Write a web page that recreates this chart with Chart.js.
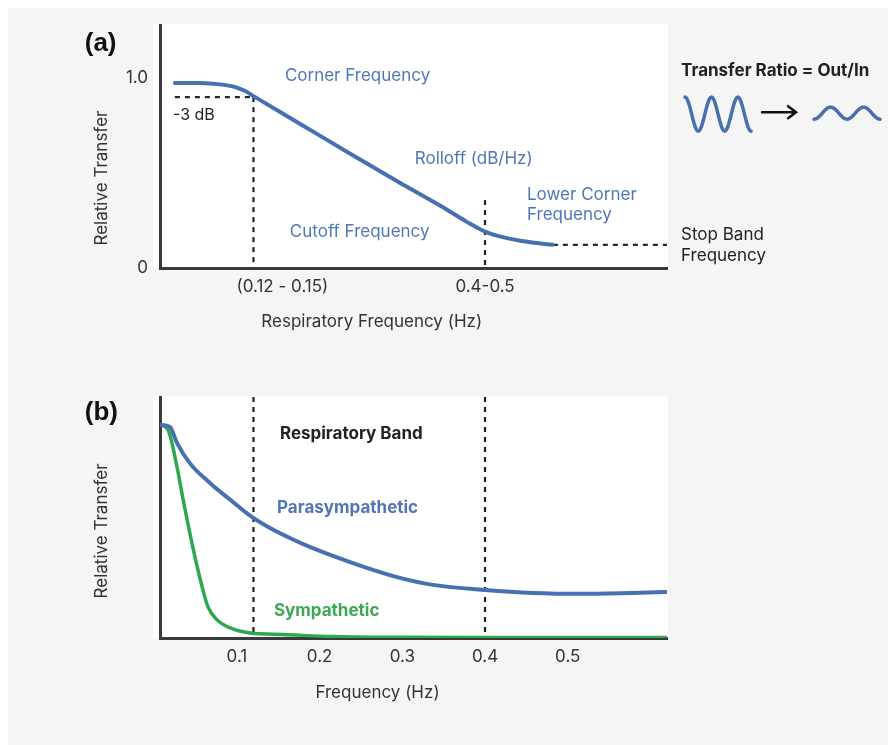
<!DOCTYPE html>
<html>
<head>
<meta charset="utf-8">
<script src="https://cdn.jsdelivr.net/npm/chart.js@4.4.1/dist/chart.umd.min.js"></script>
<style>
  html, body { margin: 0; padding: 0; background: #fff; }
  body { width: 888px; height: 745px; position: relative; overflow: hidden; }
  #sheet { position: absolute; left: 8px; top: 8px; width: 880px; height: 737px; background: #f5f5f5; }
  .panel { position: absolute; left: 0; width: 888px; }
  #panelA { top: 0; height: 370px; }
  #panelB { top: 370px; height: 375px; }
</style>
</head>
<body>
<div id="sheet"></div>
<div class="panel" id="panelA"><canvas id="chartA"></canvas></div>
<div class="panel" id="panelB"><canvas id="chartB"></canvas></div>
<script>
// (a) low-pass transfer curve
const freqA = [0.025, 0.055, 0.082, 0.098, 0.11, 0.119, 0.178, 0.237, 0.297, 0.346, 0.378, 0.4, 0.424, 0.451, 0.482];
const transferA = [0.974, 0.974, 0.966, 0.953, 0.932, 0.908, 0.755, 0.602, 0.449, 0.328, 0.243, 0.192, 0.16, 0.138, 0.122];
const xTicksA = [0.155, 0.4];
const xTickLabelsA = ['(0.12 - 0.15)', '0.4-0.5'];
const yTicksA = [0, 1];
const yTickLabelsA = ['0', '1.0'];
const cornerFreq = 0.12;
const cornerLevel = 0.9;
const lowerCornerFreq = 0.4;
const lowerCornerTop = 0.358;
const stopBandLevel = 0.122;

// (b) parasympathetic / sympathetic transfer
const freqPara = [0.007, 0.019, 0.0275, 0.043, 0.067, 0.092, 0.118, 0.14, 0.164, 0.188, 0.216, 0.257, 0.297, 0.337, 0.4, 0.458, 0.518, 0.579, 0.62];
const para = [1.0, 0.99, 0.915, 0.82, 0.728, 0.648, 0.568, 0.516, 0.469, 0.427, 0.385, 0.329, 0.282, 0.249, 0.225, 0.211, 0.207, 0.211, 0.216];
const freqSymp = [0.007, 0.0166, 0.0275, 0.035, 0.043, 0.052, 0.058, 0.065, 0.076, 0.092, 0.116, 0.156, 0.216, 0.297, 0.45, 0.62];
const symp = [1.0, 0.977, 0.803, 0.648, 0.493, 0.333, 0.239, 0.146, 0.085, 0.047, 0.023, 0.016, 0.007, 0.003, 0.002, 0.002];
const xTicksB = [0.1, 0.2, 0.3, 0.4, 0.5];
const xTickLabelsB = ['0.1', '0.2', '0.3', '0.4', '0.5'];
const bandEdges = [0.12, 0.4];

const X_MIN = 0.007, X_MAX = 0.62;
const BLUE = '#4670b0';
const LABEL_BLUE = '#5077b4';
const GREEN = '#2ea84c';
const INK = '#222';
const FONT = 'Inter, "Open Sans", sans-serif';

const pts = (xs, ys) => xs.map((x, i) => ({ x, y: ys[i] }));

Chart.defaults.font.family = FONT;
Chart.defaults.font.size = 17;
Chart.defaults.color = '#333';

// white plot background, slightly wider than the axes
const plotBg = {
  id: 'plotBg',
  beforeDraw(chart) {
    const { ctx, chartArea: a } = chart;
    ctx.save();
    ctx.fillStyle = '#fff';
    ctx.fillRect(a.left - 7, a.top - 1, a.right - a.left + 8, a.bottom - a.top + 1);
    ctx.restore();
  }
};

// text placed in data coordinates
const makeLabels = (items, extra) => ({
  id: 'labels',
  afterDatasetsDraw(chart) {
    const { ctx, scales: { x, y } } = chart;
    items.forEach(it => {
      ctx.save();
      ctx.font = it.font;
      ctx.fillStyle = it.color;
      ctx.textAlign = it.align || 'left';
      ctx.textBaseline = 'middle';
      const px = x.getPixelForValue(it.x);
      const py = y.getPixelForValue(it.y);
      if (it.rotate) {
        ctx.translate(px, py);
        ctx.rotate(-Math.PI / 2);
        ctx.fillText(it.text, 0, 0);
      } else {
        ctx.fillText(it.text, px, py);
      }
      ctx.restore();
    });
    if (extra) extra(chart);
  }
});

// the little "in -> out" wave icon next to the ratio caption
function drawWaveIcon(chart) {
  const { ctx, scales: { x, y } } = chart;
  const ox = x.getPixelForValue(0.637);
  const oy = y.getPixelForValue(1.037);
  ctx.save();
  ctx.strokeStyle = BLUE;
  ctx.lineWidth = 3.5;
  ctx.lineCap = 'round';
  ctx.beginPath();
  for (let i = 0; i <= 80; i++) {
    const t = i / 80;
    const px = ox + 4 + t * 66;
    const py = oy + 43 - 17 * Math.cos(2 * Math.PI * 2.5 * t);
    i ? ctx.lineTo(px, py) : ctx.moveTo(px, py);
  }
  ctx.stroke();
  ctx.beginPath();
  for (let i = 0; i <= 80; i++) {
    const t = i / 80;
    const px = ox + 133 + t * 66;
    const py = oy + 42 + 6 * Math.cos(2 * Math.PI * 2 * t);
    i ? ctx.lineTo(px, py) : ctx.moveTo(px, py);
  }
  ctx.stroke();
  // arrow
  ctx.strokeStyle = '#111';
  ctx.lineWidth = 2.5;
  ctx.beginPath();
  ctx.moveTo(ox + 81, oy + 41);
  ctx.lineTo(ox + 114, oy + 41);
  ctx.moveTo(ox + 107, oy + 35);
  ctx.lineTo(ox + 115, oy + 41);
  ctx.lineTo(ox + 107, oy + 47);
  ctx.stroke();
  ctx.restore();
}

const dashed = (data) => ({
  data,
  borderColor: INK,
  borderWidth: 2.2,
  borderDash: [5, 5],
  pointRadius: 0,
  tension: 0
});

const axisStyle = { grid: { display: false, drawTicks: false }, border: { display: true, color: '#3a3a3a', width: 3 } };

const xScale = (ticks, labels, xHeight) => ({
  type: 'linear',
  min: X_MIN,
  max: X_MAX,
  ...axisStyle,
  afterBuildTicks: s => { s.ticks = ticks.map(v => ({ value: v })); },
  afterFit: s => { s.height = xHeight; },
  ticks: { padding: 9, maxRotation: 0, autoSkip: false, color: '#333', font: { size: 17 }, callback: (v, i) => labels[i] }
});

const baseOptions = {
  responsive: true,
  maintainAspectRatio: false,
  animation: false,
  devicePixelRatio: 1,
  plugins: { legend: { display: false }, tooltip: { enabled: false } }
};

// ---------- panel (a)
const labelsA = [
  { text: '(a)', x: -0.084, y: 1.179, font: 'bold 26px "Liberation Sans", Arial, sans-serif', color: '#111' },
  { text: 'Corner Frequency', x: 0.158, y: 1.01, font: `17px ${FONT}`, color: LABEL_BLUE },
  { text: '-3 dB', x: 0.0227, y: 0.805, font: `16px ${FONT}`, color: INK },
  { text: 'Rolloff (dB/Hz)', x: 0.315, y: 0.574, font: `17px ${FONT}`, color: LABEL_BLUE },
  { text: 'Lower Corner', x: 0.4507, y: 0.384, font: `17px ${FONT}`, color: LABEL_BLUE },
  { text: 'Frequency', x: 0.4507, y: 0.279, font: `17px ${FONT}`, color: LABEL_BLUE },
  { text: 'Cutoff Frequency', x: 0.164, y: 0.189, font: `17px ${FONT}`, color: LABEL_BLUE },
  { text: 'Stop Band', x: 0.637, y: 0.174, font: `17px ${FONT}`, color: INK },
  { text: 'Frequency', x: 0.637, y: 0.063, font: `17px ${FONT}`, color: INK },
  { text: 'Transfer Ratio = Out/In', x: 0.637, y: 1.037, font: `bold 17px ${FONT}`, color: INK },
  { text: 'Relative Transfer', x: -0.063, y: 0.474, align: 'center', rotate: true, font: `17px ${FONT}`, color: '#333' },
  { text: 'Respiratory Frequency (Hz)', x: 0.263, y: -0.284, align: 'center', font: `17px ${FONT}`, color: '#333' }
];

new Chart(document.getElementById('chartA'), {
  type: 'line',
  data: {
    datasets: [
      {
        data: pts(freqA, transferA),
        borderColor: BLUE,
        borderWidth: 4,
        pointRadius: 0,
        cubicInterpolationMode: 'monotone',
        borderCapStyle: 'round'
      },
      dashed([{ x: freqA[0], y: cornerLevel }, { x: cornerFreq, y: cornerLevel }]),
      dashed([{ x: cornerFreq, y: cornerLevel }, { x: cornerFreq, y: 0 }]),
      dashed([{ x: lowerCornerFreq, y: lowerCornerTop }, { x: lowerCornerFreq, y: 0 }]),
      dashed([{ x: freqA[freqA.length - 1], y: stopBandLevel }, { x: X_MAX, y: stopBandLevel }])
    ]
  },
  options: {
    ...baseOptions,
    layout: { padding: { left: 0, top: 25, right: 221, bottom: 0 } },
    scales: {
      x: xScale(xTicksA, xTickLabelsA, 102),
      y: {
        type: 'linear',
        min: 0,
        max: 1.28,
        ...axisStyle,
        afterBuildTicks: s => { s.ticks = yTicksA.map(v => ({ value: v })); },
        afterFit: s => { s.width = 160; },
        ticks: { padding: 12, color: '#333', font: { size: 17 }, callback: (v, i) => yTickLabelsA[i] }
      }
    }
  },
  plugins: [plotBg, makeLabels(labelsA, drawWaveIcon)]
});

// ---------- panel (b)
const labelsB = [
  { text: '(b)', x: -0.084, y: 1.056, font: 'bold 26px "Liberation Sans", Arial, sans-serif', color: '#111' },
  { text: 'Respiratory Band', x: 0.152, y: 0.958, font: `bold 17px ${FONT}`, color: INK },
  { text: 'Parasympathetic', x: 0.1485, y: 0.61, font: `bold 17px ${FONT}`, color: LABEL_BLUE },
  { text: 'Sympathetic', x: 0.1448, y: 0.127, font: `bold 17px ${FONT}`, color: '#3aaa52' },
  { text: 'Relative Transfer', x: -0.063, y: 0.502, align: 'center', rotate: true, font: `17px ${FONT}`, color: '#333' },
  { text: 'Frequency (Hz)', x: 0.27, y: -0.258, align: 'center', font: `17px ${FONT}`, color: '#333' }
];

new Chart(document.getElementById('chartB'), {
  type: 'line',
  data: {
    datasets: [
      {
        data: pts(freqPara, para),
        borderColor: BLUE,
        borderWidth: 4,
        pointRadius: 0,
        cubicInterpolationMode: 'monotone'
      },
      {
        data: pts(freqSymp, symp),
        borderColor: GREEN,
        borderWidth: 3.5,
        pointRadius: 0,
        cubicInterpolationMode: 'monotone'
      },
      ...bandEdges.map(f => dashed([{ x: f, y: 1.13 }, { x: f, y: 0 }]))
    ]
  },
  options: {
    ...baseOptions,
    layout: { padding: { left: 0, top: 27, right: 221, bottom: 0 } },
    scales: {
      x: xScale(xTicksB, xTickLabelsB, 107),
      y: {
        type: 'linear',
        min: 0,
        max: 1.13,
        ...axisStyle,
        afterFit: s => { s.width = 160; },
        ticks: { display: false }
      }
    }
  },
  plugins: [plotBg, makeLabels(labelsB)]
});
</script>
</body>
</html>
